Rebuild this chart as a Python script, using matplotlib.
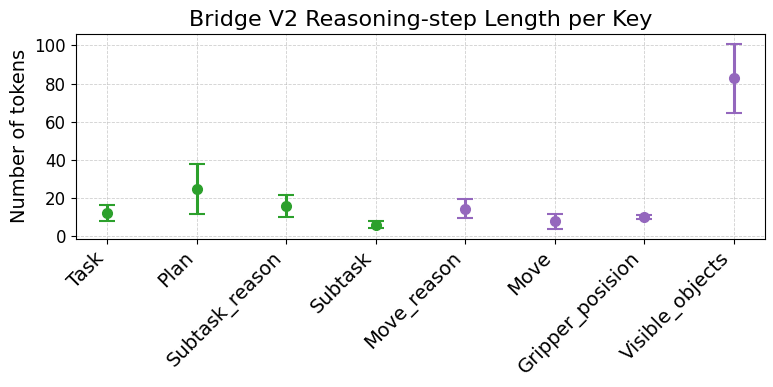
import matplotlib
matplotlib.use('Agg')
import matplotlib.pyplot as plt
import numpy as np

# keys and stats
keys = ['Task', 'Plan', 'Subtask_reason', 'Subtask',
        'Move_reason', 'Move', 'Gripper_posision', 'Visible_objects']
means = [12.0, 24.6, 15.8, 5.9, 14.3, 7.6, 10.0, 82.9]
stds = [4.0, 13.3, 5.8, 1.8, 5.1, 4.0, 1.0, 18.1]
colors = ['#2ca02c'] * 4 + ['#9467bd'] * 4

fig, ax = plt.subplots(figsize=(7.73, 3.87), dpi=100)

x = np.arange(len(keys))
for i in range(len(keys)):
    ax.errorbar(x[i], means[i], yerr=stds[i], fmt='o', color=colors[i],
                ecolor=colors[i], elinewidth=2.2, capsize=6, capthick=1.5,
                markersize=7)

ax.set_xticks(x)
ax.set_xticklabels(keys, rotation=45, ha='right', fontsize=14)
ax.tick_params(axis='y', labelsize=12)
ax.set_ylabel('Number of tokens', fontsize=14)
ax.set_title('Bridge V2 Reasoning-step Length per Key', fontsize=16)
ax.grid(True, linestyle='--', linewidth=0.6, alpha=0.6)
ax.set_ylim(-1.5, 106)

fig.subplots_adjust(left=0.098, right=0.99, top=0.912, bottom=0.383)
fig.savefig('out.png', dpi=100)
